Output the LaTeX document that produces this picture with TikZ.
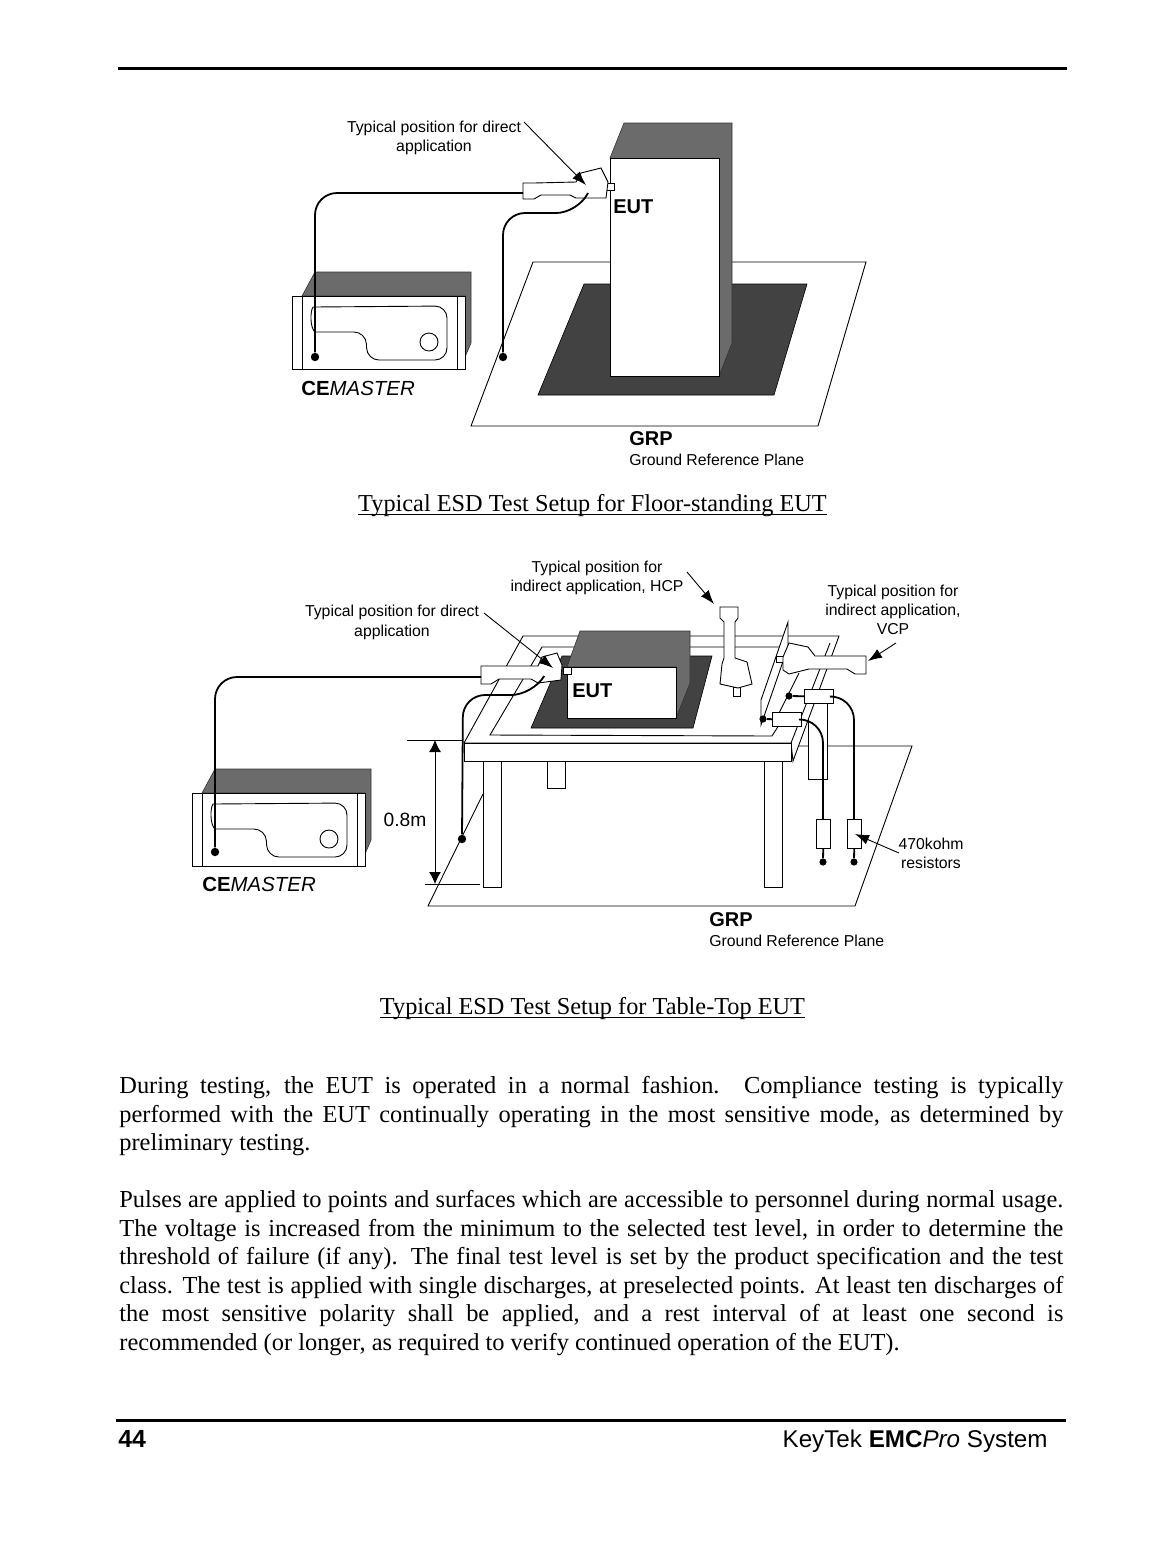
\documentclass[tikz,border=0pt]{standalone}
\usepackage{fontspec}
\setmainfont{Liberation Serif}
\newfontfamily\labelfont{Liberation Sans}
\usetikzlibrary{arrows.meta}
\tikzset{
    wire/.style={line width=0.45pt},
    body/.style={line width=0.45pt, fill=white},
    cable/.style={line width=0.9pt, rounded corners=11pt},
    callout/.style={line width=0.45pt, -{Latex[length=7pt,width=5pt]}},
    shade/.style={fill=black!58, draw=black!80, line width=0.3pt},
    shadow/.style={fill=black!74, draw=black, line width=0.3pt},
    rule/.style={line width=1.5pt},
    plug/.style={circle, fill=black, inner sep=0pt, minimum size=4.2pt},
    callnote/.style={font=\labelfont\fontsize{7.9}{9.6}\selectfont, align=center, inner sep=0pt},
    title/.style={font=\labelfont\bfseries\fontsize{10}{12}\selectfont, inner sep=0pt, anchor=west},
    caption/.style={font=\fontsize{12.15}{14}\selectfont, inner sep=0pt},
    para/.style={font=\fontsize{12.2}{14.3}\selectfont, text width=472pt, align=justify, inner sep=0pt, anchor=north west}
}
\begin{document}
\begin{tikzpicture}[x=0.5pt,y=-0.5pt]
    \useasboundingbox (0,0) rectangle (1176,1544);
    \draw[rule] (118,68) -- (1067,68);
    \draw[rule] (116,1420) -- (1066,1420);

    % Both generators
    \foreach \dx/\dy in {292/296,192/793} {
        \begin{scope}[shift={(\dx,\dy)}]
            \draw[shade] (10,0) -- (23,-24) -- (179,-24) -- (179,47) -- (173,61) -- (173,0) -- cycle;
            \draw[body] (0,0) rectangle (173,73);
            \draw[wire] (10,0) -- (10,73) (165,0) -- (165,73);
            \draw[wire, rounded corners=6pt] (21,11) -- (155,10) -- (155,64) -- (75,64) -- (74,36) -- (23,36);
            \draw[wire] (23,36) .. controls (18,32) and (18,15) .. (21,11);
            \draw[wire] (137,46) circle (9);
        \end{scope}
    }

    % Floor-standing setup
    \draw[body] (533,262) -- (866,262) -- (818,426) -- (471,426) -- cycle;
    \draw[shadow] (584,284) -- (807,284) -- (774,395) -- (538,395) -- cycle;
    \draw[shade] (610,158) -- (624,123) -- (732,123) -- (732,343) -- (719,376) -- cycle;
    \draw[body] (610,158) rectangle (719,376);
    \draw[body] (606,183) rectangle (614,190);
    \draw[body] (523,183) -- (534,183) -- (576,182) -- (581,173) -- (601,168) -- (608,182) -- (606,198)
        -- (576,198) -- (570,195) -- (541,195) -- (534,199) -- (523,199) -- cycle;
    \coordinate (gunA) at (523,193);
    \coordinate (gunB) at (588,193);
    \node[plug] (plugA) at (315,357) {};
    \node[plug] (plugB) at (503,357) {};
    \draw[cable] (plugA) -- (315,193) -- (gunA);
    \draw[cable] (gunB) -- (578,213) -- (503,213) -- (plugB);

    % Table-top setup
    \draw[wire] (483,794) -- (428,906) -- (855,906) -- (912,746) -- (796,746);
    \foreach \lx/\ly/\lw/\lh in {483/761/18/126,547/761/18/27,764/761/18/126,808/703/19/76} {
        \draw[body] (\lx,\ly) rectangle ++(\lw,\lh);
    }
    \draw[body] (523,636) -- (839,636) -- (793,761) -- (791,743) -- (464,743) -- cycle;
    \draw[body] (464,743) rectangle (791,761);
    \draw[wire] (791,743) -- (830,643);
    \draw[wire] (782,647) -- (542,647) -- (490,735) -- (772,736) -- (779,725);
    \draw[shadow] (562,656) -- (712,656) -- (693,728) -- (531,728) -- cycle;
    \draw[shade] (567,667) -- (580,631) -- (690,631) -- (690,683) -- (676,718) -- (676,667) -- cycle;
    \draw[body] (567,667) rectangle (676,718);
    \draw[body] (563,667) rectangle (571,674);
    \draw[body] (481,666) -- (492,666) -- (538,666) -- (542,657) -- (557,653) -- (562,665) -- (561,680)
        -- (538,683) -- (531,679) -- (499,679) -- (491,684) -- (481,684) -- cycle;
    % Coupling plane and guns
    \draw[body] (788,622) -- (761,700) -- (761,725) -- (788,647) -- cycle;
    \draw[wire] (799,673) -- (774,723);
    \draw[body] (733,687) rectangle (740,696);
    \draw[body] (720,607) -- (738,607) -- (738,618) -- (735,622) -- (735,658) -- (747,662) -- (752,684)
        -- (738,688) -- (720,684) -- (722,664) -- (724,658) -- (724,622) -- (720,618) -- cycle;
    \draw[body] (776,656) rectangle (783,662);
    \draw[body] (866,656) -- (855,656) -- (815,656) -- (808,647) -- (789,643) -- (783,657) -- (783,670)
        -- (789,674) -- (809,669) -- (847,669) -- (855,674) -- (866,674) -- cycle;

    % Cables
    \coordinate (gunC) at (481,677);
    \coordinate (gunD) at (543,678);
    \node[plug] (plugC) at (215,852) {};
    \node[plug] (plugD) at (462,839) {};
    \draw[cable] (plugC) -- (215,677) -- (gunC);
    \draw[cable] (gunD) -- (533,695) -- (463,695) -- (plugD);

    % Resistors
    \foreach \i/\bx/\by/\rx/\dx/\dy in {1/772/712/816/763/719,2/804/689/847/789/696} {
        \node[plug, minimum size=3.6pt] (hv\i) at (\dx,\dy) {};
        \node[draw, fill=white, line width=0.45pt, inner sep=0pt, minimum width=14.5pt, minimum height=7pt, anchor=north west] (box\i) at (\bx,\by) {};
        \node[draw, fill=white, line width=0.45pt, inner sep=0pt, minimum width=7pt, minimum height=14.5pt, anchor=north west] (res\i) at (\rx,819) {};
        \node[plug, minimum size=3.6pt] (end\i) at (\rx+7,862) {};
        \draw[line width=0.9pt] (hv\i) -- (box\i);
        \draw[line width=0.9pt] (res\i) -- (end\i);
    }
    \draw[line width=0.9pt, rounded corners=12pt] (box1.east) -- (823,719) -- (823,819);
    \draw[line width=0.9pt, rounded corners=12pt] (box2.east) -- (854,696) -- (854,819);

    % Height mark
    \coordinate (markTop) at (435,740);
    \coordinate (markBot) at (435,884);
    \draw[wire] (407,740) -- (463,740);
    \draw[wire] (425,884) -- (480,884);
    \draw[wire, {Latex[length=6pt,width=6pt]}-{Latex[length=6pt,width=6pt]}] (markTop) -- (markBot);

    % Callouts
    \node[callnote] (noteA) at (434,138) {Typical position for direct\\application};
    \node[callnote] (noteB) at (392,622.5) {Typical position for direct\\application};
    \node[callnote] (noteC) at (597,578) {Typical position for\\indirect application, HCP};
    \node[callnote] (noteD) at (893,610) {Typical position for\\indirect application,\\VCP};
    \node[callnote] (noteE) at (931,853) {470kohm\\resistors};
    \coordinate (tipA) at (586,185);
    \coordinate (tipB) at (553,668);
    \coordinate (tipC) at (714,604);
    \coordinate (tipD) at (868,661);
    \coordinate (tipE) at (855,834);
    \draw[callout] (524,122) -- (tipA);
    \draw[callout] (484,613) -- (tipB);
    \draw[callout] (687,572) -- (tipC);
    \draw[callout] (896,643) -- (tipD);
    \draw[callout] (899,853) -- (tipE);

    % Labels
    \node[title] (eutA) at (613,207) {EUT};
    \node[title] (eutB) at (572,691) {EUT};
    \node[title, font=\labelfont\fontsize{10.2}{12}\selectfont] (cemA) at (301,388) {\textbf{CE}\textit{MASTER}};
    \node[title, font=\labelfont\fontsize{10.2}{12}\selectfont] (cemB) at (202,884) {\textbf{CE}\textit{MASTER}};
    \node[title] (grpA) at (629,439) {GRP};
    \node[title] (grpB) at (709,920) {GRP};
    \node[callnote, anchor=west] (planeA) at (629,460) {Ground Reference Plane};
    \node[callnote, anchor=west] (planeB) at (709,941) {Ground Reference Plane};
    \node[callnote, font=\labelfont\fontsize{9.6}{11}\selectfont] (height) at (405,820) {0.8m};
    \node[caption] (capA) at (592.5,506) {Typical ESD Test Setup for Floor-standing EUT};
    \node[caption] (capB) at (592.5,1009) {Typical ESD Test Setup for Table-Top EUT};
    \draw[wire] ([yshift=-1.1pt]capA.base west) -- ([yshift=-1.1pt]capA.base east);
    \draw[wire] ([yshift=-1.1pt]capB.base west) -- ([yshift=-1.1pt]capB.base east);

    % Page text
    \node[para] (paraA) at (119,1076) {During testing, the EUT is operated in a normal fashion. Compliance testing is typically\linebreak
        performed with the EUT continually operating in the most sensitive mode, as determined by\linebreak
        preliminary testing.};
    \node[para] (paraB) at (119,1190) {Pulses are applied to points and surfaces which are accessible to personnel during normal usage.\linebreak
        The voltage is increased from the minimum to the selected test level, in order to determine the\linebreak
        threshold of failure (if any). The final test level is set by the product specification and the test\linebreak
        class. The test is applied with single discharges, at preselected points. At least ten discharges of\linebreak
        the most sensitive polarity shall be applied, and a rest interval of at least one second is\linebreak
        recommended (or longer, as required to verify continued operation of the EUT).};
    \node[title, font=\labelfont\bfseries\fontsize{12.4}{14}\selectfont] (pageNo) at (118,1439) {44};
    \node[title, anchor=east, font=\labelfont\fontsize{12.1}{14}\selectfont] (footer) at (1048,1441) {KeyTek \textbf{EMC}\textit{Pro} System};
\end{tikzpicture}
\end{document}
